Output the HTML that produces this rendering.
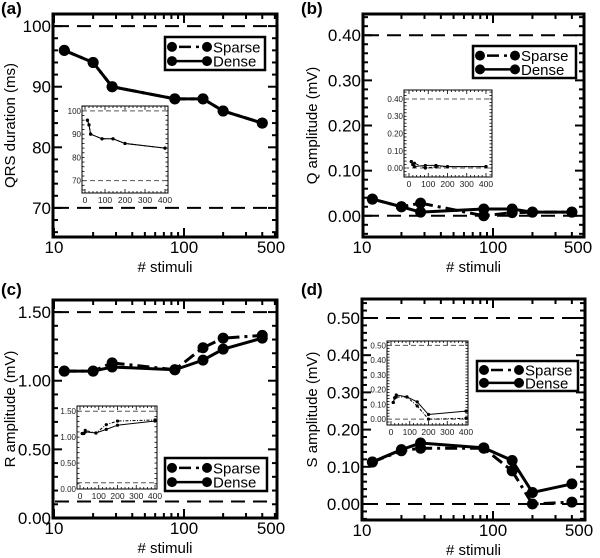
<!DOCTYPE html>
<html><head><meta charset="utf-8"><style>
body{margin:0;background:#fff}
svg{display:block;font-family:"Liberation Sans",Arial,sans-serif}
</style></head><body>
<svg id="fig" width="600" height="558" viewBox="0 0 600 558" xmlns="http://www.w3.org/2000/svg"></svg>
<script>
const stimuli = [12, 20, 28, 85, 140, 200, 400];
const qrsDense = [96, 94, 90, 88, 88, 86, 84];
const qrsSparse = [96, 94, 90, 88, 88, 86, 84];
const qDense = [0.037, 0.02, 0.008, 0.015, 0.015, 0.008, 0.008];
const qSparse = [0.037, 0.02, 0.028, 0.0, 0.007, 0.008, 0.008];
const rDense = [1.07, 1.07, 1.10, 1.08, 1.15, 1.23, 1.31];
const rSparse = [1.07, 1.07, 1.13, 1.08, 1.24, 1.31, 1.33];
const sDense = [0.113, 0.146, 0.164, 0.151, 0.117, 0.031, 0.054];
const sSparse = [0.113, 0.143, 0.150, 0.150, 0.089, 0.0, 0.005];
const xTickLabels = ["10", "100", "500"];
const qrsTicks = ["70", "80", "90", "100"];
const qTicks = ["0.00", "0.10", "0.20", "0.30", "0.40"];
const rTicks = ["0.00", "0.50", "1.00", "1.50"];
const sTicks = ["0.00", "0.10", "0.20", "0.30", "0.40", "0.50"];
const insetXTicks = ["0", "100", "200", "300", "400"];
const qrsRefs = [100, 70];
const qRefs = [0.40, 0.00];
const rRefs = [1.50, 0.12];
const sRefs = [0.50, 0.00];

const NS = "http://www.w3.org/2000/svg";
const svg = document.getElementById("fig");
function mk(tag, attrs, parent, text) {
  const e = document.createElementNS(NS, tag);
  for (const k in attrs) e.setAttribute(k, attrs[k]);
  if (text !== undefined) e.textContent = text;
  (parent || svg).appendChild(e);
  return e;
}

function panel(p) {
  const g = mk("g", {});
  
  
  const xs = v => p.x10 + p.dec * Math.log10(v / 10);
  const ys = v => p.yb - (v - p.ymin) / (p.ymax - p.ymin) * (p.yb - p.yt);
  const tk = mk("g", {stroke: "#000", "stroke-width": 2}, g);
  
  
  for (let d = 10; d <= 100; d *= 10) for (let m = 1; m < 10; m++) {
    const v = d * m; if (v > 500) break; const x = xs(v);
    if (x < p.xl || x > p.xr) continue;
    const L = (m === 1) ? 9 : 5;
    mk("line", {x1: x, x2: x, y1: p.yb, y2: p.yb - L}, tk);
    mk("line", {x1: x, x2: x, y1: p.yt, y2: p.yt + L}, tk);
  }
  const step = p.minor;
  for (let v = Math.ceil(p.ymin / step) * step; v <= p.ymax + 1e-9; v += step) {
    const y = ys(v);
    const major = Math.abs(v / p.major - Math.round(v / p.major)) < 1e-6;
    const L = major ? 9 : 5;
    mk("line", {x1: p.xl, x2: p.xl + L, y1: y, y2: y}, tk);
    mk("line", {x1: p.xr, x2: p.xr - L, y1: y, y2: y}, tk);
  }
  p.refs.forEach(r => {
    const l = mk("line", {x1: p.xl + 2, x2: p.xr - 2, y1: ys(r), y2: ys(r), stroke: "#000", "stroke-width": 2, "stroke-dasharray": "14,8"}, g);
    
    
  });
  function series(vals, dashed, name) {
    const pts = stimuli.map((s, i) => xs(s) + "," + ys(vals[i])).join(" ");
    const sg = mk("g", {}, g);
    
    
    mk("polyline", {points: pts, fill: "none", stroke: "#000", "stroke-width": 3, "stroke-dasharray": dashed ? "12,5,3,5" : "none"}, sg);
    stimuli.forEach((s, i) => {
      const c = mk("circle", {cx: xs(s), cy: ys(vals[i]), r: 5.5, fill: "#000"}, sg);
      
      
    });
  }
  series(p.sparse, true, "sparse-series");
  series(p.dense, false, "dense-series");
  const fr = mk("rect", {x: p.xl, y: p.yt, width: p.xr - p.xl, height: p.yb - p.yt, fill: "none", stroke: "#000", "stroke-width": 3}, g);
  
  
  const xl = [10, 100, 500];
  xTickLabels.forEach((t, i) => {
    let x = xs(xl[i]); if (i === 2) x = Math.min(x, p.xr - 6);
    const e = mk("text", {x: x, y: p.yb + 16, "font-size": 17, "text-anchor": "middle"}, g, t);
    
    
  });
  p.ticks.forEach(t => {
    const e = mk("text", {x: p.xl - 2, y: ys(parseFloat(t)) + 6, "font-size": 17, "text-anchor": "end"}, g, t);
    
    
  });
  const xt = mk("text", {x: (p.xl + p.xr) / 2, y: p.yb + 35, "font-size": 15, "text-anchor": "middle"}, g, "# stimuli");
  
  
  const cy = (p.yt + p.yb) / 2;
  const yt = mk("text", {x: p.ytx, y: cy, "font-size": 15, "text-anchor": "middle", transform: `rotate(-90 ${p.ytx} ${cy})`}, g, p.ytitle);
  
  
  const pl = mk("text", {x: p.lx, y: p.ly, "font-size": 17, "font-weight": "bold"}, g, "(" + p.id + ")");
  
  
  const lg = mk("g", {}, g);
  
  
  const L = p.leg;
  mk("rect", {x: L[0], y: L[1], width: L[2], height: L[3], fill: "#fff", stroke: "#000", "stroke-width": 2.5}, lg);
  [["Sparse", true], ["Dense", false]].forEach((e, i) => {
    const y = L[1] + L[3] * (i === 0 ? 0.3 : 0.73);
    const le = mk("g", {}, lg);
    
    
    mk("line", {x1: L[0] + 7, x2: L[0] + 42, y1: y, y2: y, stroke: "#000", "stroke-width": 2.5, "stroke-dasharray": e[1] ? "0,7,12,5,3,20" : "none"}, le);
    mk("circle", {cx: L[0] + 7, cy: y, r: 5, fill: "#000"}, le);
    mk("circle", {cx: L[0] + 42, cy: y, r: 5, fill: "#000"}, le);
    mk("text", {x: L[0] + 48, y: y + 5.5, "font-size": 15}, le, e[0]);
  });
  const I = p.inset;
  const ig = mk("g", {}, g);
  
  
  const ix = v => I.x0 + (I.x400 - I.x0) * v / 400;
  const iy = v => I.yb - (v - I.ymin) / (I.ymax - I.ymin) * (I.yb - I.yt);
  mk("rect", {x: I.xl, y: I.yt, width: I.xr - I.xl, height: I.yb - I.yt, fill: "#fff"}, ig);
  for (let v = 0; v <= 400; v += 20) {
    const x = ix(v); const Lk = v % 100 === 0 ? 4 : 2;
    mk("line", {x1: x, x2: x, y1: I.yb, y2: I.yb - Lk, stroke: "#000", "stroke-width": 0.8}, ig);
    mk("line", {x1: x, x2: x, y1: I.yt, y2: I.yt + Lk, stroke: "#000", "stroke-width": 0.8}, ig);
  }
  for (let v = Math.ceil(I.ymin / I.minor) * I.minor; v <= I.ymax; v += I.minor) {
    const y = iy(v);
    mk("line", {x1: I.xl, x2: I.xl + 2.5, y1: y, y2: y, stroke: "#000", "stroke-width": 0.8}, ig);
    mk("line", {x1: I.xr, x2: I.xr - 2.5, y1: y, y2: y, stroke: "#000", "stroke-width": 0.8}, ig);
  }
  p.refs.forEach(r => mk("line", {x1: I.xl, x2: I.xr, y1: iy(r), y2: iy(r), stroke: "#555", "stroke-width": 1, "stroke-dasharray": "5,3"}, ig));
  [[p.sparse, "3,1.5,1,1.5"], [p.dense, "none"]].forEach(s => {
    mk("polyline", {points: stimuli.map((x, i) => ix(x) + "," + iy(s[0][i])).join(" "), fill: "none", stroke: "#000", "stroke-width": 1, "stroke-dasharray": s[1]}, ig);
    stimuli.forEach((x, i) => mk("circle", {cx: ix(x), cy: iy(s[0][i]), r: 1.6, fill: "#000"}, ig));
  });
  mk("rect", {x: I.xl, y: I.yt, width: I.xr - I.xl, height: I.yb - I.yt, fill: "none", stroke: "#000", "stroke-width": 1}, ig);
  insetXTicks.forEach(t => mk("text", {x: ix(+t), y: I.yb + 10, "font-size": 8.5, "text-anchor": "middle", fill: "#222"}, ig, t));
  I.ticks.forEach(t => mk("text", {x: I.xl - 1, y: iy(parseFloat(t)) + 3, "font-size": 8, "text-anchor": "end", fill: "#222"}, ig, t));
}

panel({id: "a", xl: 53, xr: 277, yt: 14, yb: 237, x10: 54, dec: 130, ymin: 65.2, ymax: 102, major: 10, minor: 2,
  ticks: qrsTicks, refs: qrsRefs, dense: qrsDense, sparse: qrsSparse, ytitle: "QRS duration (ms)", ytx: 15, lx: 1, ly: 14,
  leg: [165, 37, 100, 33],
  inset: {xl: 82, xr: 168, yt: 106, yb: 193, x0: 85, x400: 165, ymin: 64.7, ymax: 102.1, minor: 2, ticks: ["70", "80", "90", "100"]}});
panel({id: "b", xl: 363, xr: 584, yt: 14, yb: 237, x10: 362, dec: 131, ymin: -0.047, ymax: 0.447, major: 0.1, minor: 0.02,
  ticks: qTicks, refs: qRefs, dense: qDense, sparse: qSparse, ytitle: "Q amplitude (mV)", ytx: 317, lx: 301, ly: 14,
  leg: [473, 46, 103, 32],
  inset: {xl: 404, xr: 492, yt: 90, yb: 177, x0: 409, x400: 486, ymin: -0.052, ymax: 0.452, minor: 0.02, ticks: ["0.00", "0.10", "0.20", "0.30", "0.40"]}});
panel({id: "c", xl: 53, xr: 277, yt: 300, yb: 518, x10: 54, dec: 130, ymin: 0, ymax: 1.588, major: 0.5, minor: 0.1,
  ticks: rTicks, refs: rRefs, dense: rDense, sparse: rSparse, ytitle: "R amplitude (mV)", ytx: 15, lx: 1, ly: 295,
  leg: [165, 458, 102, 33],
  inset: {xl: 77, xr: 157, yt: 406, yb: 489, x0: 80, x400: 155, ymin: 0, ymax: 1.6, minor: 0.1, ticks: ["0.00", "0.50", "1.00", "1.50"]}});
panel({id: "d", xl: 362, xr: 585, yt: 299, yb: 520, x10: 362, dec: 131, ymin: -0.043, ymax: 0.551, major: 0.1, minor: 0.02,
  ticks: sTicks, refs: sRefs, dense: sDense, sparse: sSparse, ytitle: "S amplitude (mV)", ytx: 317, lx: 301, ly: 295,
  leg: [477, 361, 101, 30],
  inset: {xl: 387, xr: 468, yt: 341, yb: 425, x0: 391, x400: 466, ymin: -0.04, ymax: 0.53, minor: 0.02, ticks: ["0.00", "0.10", "0.20", "0.30", "0.40", "0.50"]}});
</script>
</body></html>
